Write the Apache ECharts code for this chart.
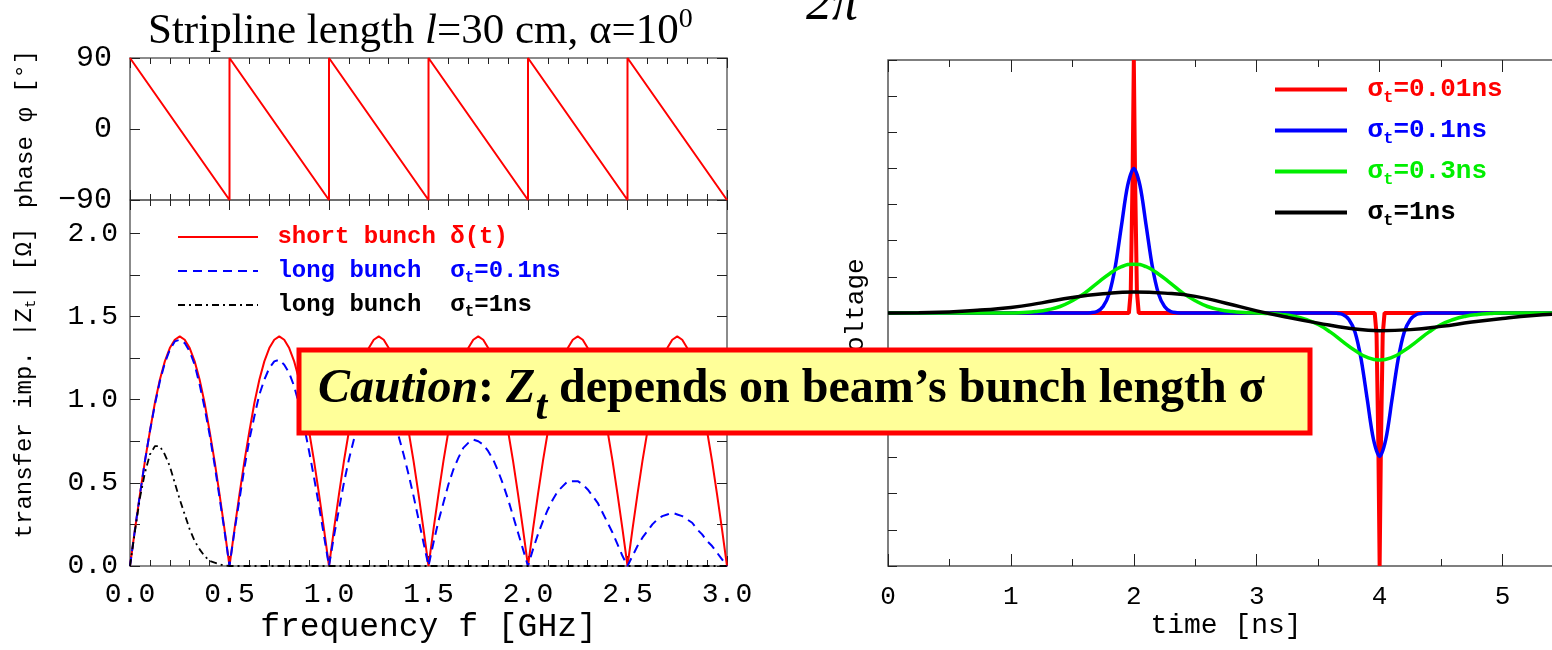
<!DOCTYPE html>
<html>
<head>
<meta charset="utf-8">
<title>Stripline transfer impedance</title>
<script src="https://cdn.jsdelivr.net/npm/echarts@6/dist/echarts.min.js"></script>
<style>
html, body { margin: 0; padding: 0; background: #fff; }
#main { width: 1552px; height: 650px; }
</style>
</head>
<body>
<div id="main"></div>
<script>
// ---- left panels: frequency domain ----
const freqGHz = [
  0, 0.025, 0.05, 0.075, 0.1, 0.125, 0.15, 0.175, 0.2, 0.225, 0.25, 0.275, 0.3, 0.325, 0.35, 0.375, 0.4, 0.425, 0.45, 0.475,
  0.5, 0.525, 0.55, 0.575, 0.6, 0.625, 0.65, 0.675, 0.7, 0.725, 0.75, 0.775, 0.8, 0.825, 0.85, 0.875, 0.9, 0.925, 0.95, 0.975,
  1.0, 1.025, 1.05, 1.075, 1.1, 1.125, 1.15, 1.175, 1.2, 1.225, 1.25, 1.275, 1.3, 1.325, 1.35, 1.375, 1.4, 1.425, 1.45, 1.475,
  1.5, 1.525, 1.55, 1.575, 1.6, 1.625, 1.65, 1.675, 1.7, 1.725, 1.75, 1.775, 1.8, 1.825, 1.85, 1.875, 1.9, 1.925, 1.95, 1.975,
  2.0, 2.025, 2.05, 2.075, 2.1, 2.125, 2.15, 2.175, 2.2, 2.225, 2.25, 2.275, 2.3, 2.325, 2.35, 2.375, 2.4, 2.425, 2.45, 2.475,
  2.5, 2.525, 2.55, 2.575, 2.6, 2.625, 2.65, 2.675, 2.7, 2.725, 2.75, 2.775, 2.8, 2.825, 2.85, 2.875, 2.9, 2.925, 2.95, 2.975,
  3.0
];
// |Zt| short bunch delta(t)
const zShort = [
  0, 0.22, 0.43, 0.63, 0.81, 0.98, 1.12, 1.23, 1.31, 1.36, 1.38, 1.36, 1.31, 1.23, 1.12, 0.98, 0.81, 0.63, 0.43, 0.22,
  0, 0.22, 0.43, 0.63, 0.81, 0.98, 1.12, 1.23, 1.31, 1.36, 1.38, 1.36, 1.31, 1.23, 1.12, 0.98, 0.81, 0.63, 0.43, 0.22,
  0, 0.22, 0.43, 0.63, 0.81, 0.98, 1.12, 1.23, 1.31, 1.36, 1.38, 1.36, 1.31, 1.23, 1.12, 0.98, 0.81, 0.63, 0.43, 0.22,
  0, 0.22, 0.43, 0.63, 0.81, 0.98, 1.12, 1.23, 1.31, 1.36, 1.38, 1.36, 1.31, 1.23, 1.12, 0.98, 0.81, 0.63, 0.43, 0.22,
  0, 0.22, 0.43, 0.63, 0.81, 0.98, 1.12, 1.23, 1.31, 1.36, 1.38, 1.36, 1.31, 1.23, 1.12, 0.98, 0.81, 0.63, 0.43, 0.22,
  0, 0.22, 0.43, 0.63, 0.81, 0.98, 1.12, 1.23, 1.31, 1.36, 1.38, 1.36, 1.31, 1.23, 1.12, 0.98, 0.81, 0.63, 0.43, 0.22,
  0
];
// |Zt| long bunch sigma_t = 0.1 ns
const zLong01 = [
  0, 0.22, 0.43, 0.63, 0.81, 0.97, 1.11, 1.22, 1.30, 1.35, 1.36, 1.34, 1.29, 1.21, 1.09, 0.95, 0.79, 0.61, 0.41, 0.21,
  0, 0.21, 0.40, 0.59, 0.76, 0.90, 1.03, 1.12, 1.19, 1.23, 1.24, 1.21, 1.16, 1.08, 0.97, 0.84, 0.69, 0.53, 0.36, 0.18,
  0, 0.18, 0.34, 0.50, 0.64, 0.76, 0.86, 0.94, 0.99, 1.01, 1.01, 0.99, 0.94, 0.87, 0.78, 0.67, 0.55, 0.42, 0.28, 0.14,
  0, 0.14, 0.27, 0.38, 0.49, 0.58, 0.65, 0.71, 0.74, 0.76, 0.75, 0.73, 0.69, 0.64, 0.57, 0.49, 0.40, 0.30, 0.20, 0.10,
  0, 0.10, 0.19, 0.27, 0.34, 0.40, 0.45, 0.48, 0.51, 0.51, 0.51, 0.49, 0.46, 0.42, 0.38, 0.32, 0.26, 0.20, 0.13, 0.06,
  0, 0.06, 0.12, 0.17, 0.21, 0.25, 0.28, 0.30, 0.31, 0.32, 0.31, 0.30, 0.28, 0.26, 0.22, 0.19, 0.15, 0.12, 0.08, 0.04,
  0
];
// |Zt| long bunch sigma_t = 1 ns
const freqLong1 = [
  0, 0.025, 0.05, 0.075, 0.1, 0.125, 0.15, 0.175, 0.2, 0.225, 0.25, 0.275, 0.3, 0.325, 0.35, 0.375, 0.4, 0.425, 0.45, 0.475,
  0.5, 0.75, 1.0, 1.5, 2.0, 2.5, 3.0
];
const zLong1 = [
  0, 0.21, 0.41, 0.56, 0.67, 0.72, 0.72, 0.67, 0.60, 0.50, 0.40, 0.31, 0.22, 0.15, 0.10, 0.06, 0.03, 0.02, 0.01, 0.003,
  0, 0, 0, 0, 0, 0, 0
];
// phase sawtooth
const phaseFreq = [0, 0.5, 0.5, 1.0, 1.0, 1.5, 1.5, 2.0, 2.0, 2.5, 2.5, 3.0];
const phaseDeg = [90, -90, 90, -90, 90, -90, 90, -90, 90, -90, 90, -90];

// ---- right panel: time domain voltage ----
const tS001 = [0, 1.96, 1.975, 1.99, 2.0, 2.01, 2.025, 2.04, 3.96, 3.975, 3.99, 4.0, 4.01, 4.025, 4.04, 5.5];
const vS001 = [0, 0, 0.6, 3.8, 7, 3.8, 0.6, 0, 0, -0.6, -3.8, -7, -3.8, -0.6, 0, 0];
const tS01 = [0, 1.6, 1.65, 1.7, 1.75, 1.8, 1.85, 1.9, 1.95, 2.0, 2.05, 2.1, 2.15, 2.2, 2.25, 2.3, 2.35, 2.4,
  3.6, 3.65, 3.7, 3.75, 3.8, 3.85, 3.9, 3.95, 4.0, 4.05, 4.1, 4.15, 4.2, 4.25, 4.3, 4.35, 4.4, 5.5];
const vS01 = [0, 0, 0.01, 0.04, 0.18, 0.54, 1.30, 2.43, 3.53, 4.0, 3.53, 2.43, 1.30, 0.54, 0.18, 0.04, 0.01, 0,
  0, -0.01, -0.04, -0.18, -0.53, -1.29, -2.41, -3.50, -3.97, -3.50, -2.41, -1.29, -0.53, -0.18, -0.04, -0.01, 0, 0];
const tS03 = [0, 1.0, 1.1, 1.2, 1.3, 1.4, 1.5, 1.6, 1.7, 1.8, 1.9, 2.0, 2.1, 2.2, 2.3, 2.4, 2.5, 2.6, 2.7, 2.8, 2.9,
  3.0, 3.1, 3.2, 3.3, 3.4, 3.5, 3.6, 3.7, 3.8, 3.9, 4.0, 4.1, 4.2, 4.3, 4.4, 4.5, 4.6, 4.7, 4.8, 4.9, 5.0, 5.5];
const vS03 = [0, 0, 0.015, 0.04, 0.09, 0.18, 0.34, 0.55, 0.82, 1.08, 1.28, 1.35, 1.28, 1.08, 0.82, 0.55, 0.34, 0.18, 0.09, 0.04, 0.015,
  0, -0.014, -0.04, -0.09, -0.18, -0.32, -0.53, -0.79, -1.04, -1.23, -1.30, -1.23, -1.04, -0.79, -0.53, -0.32, -0.18, -0.09, -0.04, -0.014, 0, 0];
const tS1 = [0, 0.25, 0.5, 0.75, 1.0, 1.25, 1.5, 1.75, 2.0, 2.25, 2.5, 2.75, 3.0, 3.25, 3.5, 3.75, 4.0, 4.25, 4.5, 4.75, 5.0, 5.25, 5.5];
const vS1 = [0, 0.01, 0.03, 0.08, 0.15, 0.28, 0.43, 0.53, 0.58, 0.55, 0.46, 0.27, 0.06, -0.12, -0.28, -0.42, -0.49, -0.46, -0.37, -0.25, -0.15, -0.07, -0.02];

const MONO = 'Liberation Mono';
const SERIF = 'Liberation Serif';
const TICK = '#222';

const pairs = (xs, ys) => xs.map((x, i) => [x, ys[i]]);

function tickAxis(cfg) {
  return Object.assign({
    type: 'value',
    axisLine: { show: false, onZero: false },
    axisTick: { show: true, inside: true, length: 10, lineStyle: { color: TICK, width: 1 } },
    axisLabel: { show: false },
    splitLine: { show: false },
    minorSplitLine: { show: false },
    nameMoveOverlap: false
  }, cfg);
}
const minorLeft = { show: true, splitNumber: 5, length: 6, lineStyle: { color: TICK, width: 1 } };
const shortTick = { show: true, inside: true, length: 7, lineStyle: { color: TICK, width: 1 } };
const longTick = { show: true, inside: true, length: 12, lineStyle: { color: TICK, width: 1 } };

function lineSeries(name, xi, yi, data, color, width, dash, smooth) {
  return {
    name: name, type: 'line', xAxisIndex: xi, yAxisIndex: yi, data: data,
    symbol: 'none', showSymbol: false, smooth: smooth || false, silent: true,
    emphasis: { disabled: true },
    lineStyle: { color: color, width: width, type: dash || 'solid' },
    itemStyle: { color: color }
  };
}

const richLeft = {
  r: { color: '#ff0000', fontFamily: MONO, fontWeight: 'bold', fontSize: 24, lineHeight: 30 },
  b: { color: '#0000ff', fontFamily: MONO, fontWeight: 'bold', fontSize: 24, lineHeight: 30 },
  bs: { color: '#0000ff', fontFamily: MONO, fontWeight: 'bold', fontSize: 16, lineHeight: 30, padding: [14, 0, 0, 0] },
  k: { color: '#000000', fontFamily: MONO, fontWeight: 'bold', fontSize: 24, lineHeight: 30 },
  ks: { color: '#000000', fontFamily: MONO, fontWeight: 'bold', fontSize: 16, lineHeight: 30, padding: [14, 0, 0, 0] }
};
const leftLabels = {
  'short bunch δ(t)': '{r| short bunch δ(t)}',
  'long bunch σt=0.1ns': '{b| long bunch  σ}{bs|t}{b|=0.1ns}',
  'long bunch σt=1ns': '{k| long bunch  σ}{ks|t}{k|=1ns}'
};
const richRight = {};
[['R', '#ff0000'], ['B', '#0000ff'], ['G', '#00ee00'], ['K', '#000000']].forEach(function (p) {
  richRight[p[0]] = { color: p[1], fontFamily: MONO, fontWeight: 'bold', fontSize: 26, lineHeight: 30 };
  richRight[p[0] + 's'] = { color: p[1], fontFamily: MONO, fontWeight: 'bold', fontSize: 17, lineHeight: 30, padding: [16, 0, 0, 0] };
});
const rightLabels = {
  'σt=0.01ns': '{R| σ}{Rs|t}{R|=0.01ns}',
  'σt=0.1ns': '{B| σ}{Bs|t}{B|=0.1ns}',
  'σt=0.3ns': '{G| σ}{Gs|t}{G|=0.3ns}',
  'σt=1ns': '{K| σ}{Ks|t}{K|=1ns}'
};

const chart = echarts.init(document.getElementById('main'));
chart.setOption({
  animation: false,
  backgroundColor: '#ffffff',
  title: {
    text: '{a|Stripline length }{i|l}{a|=30 cm, α=10}{p|0}',
    left: 143, top: 4,
    textStyle: {
      fontWeight: 'normal',
      rich: {
        a: { fontFamily: SERIF, fontWeight: 'normal', fontSize: 43, color: '#000', lineHeight: 46 },
        i: { fontFamily: SERIF, fontWeight: 'normal', fontStyle: 'italic', fontSize: 43, color: '#000', lineHeight: 46 },
        p: { fontFamily: SERIF, fontWeight: 'normal', fontSize: 28, color: '#000', lineHeight: 46, padding: [0, 0, 24, 0] }
      }
    }
  },
  grid: [
    { left: 130, top: 58, width: 597, height: 142, show: true, borderColor: '#666', borderWidth: 1.5, outerBoundsMode: 'none' },
    { left: 130, top: 200, width: 597, height: 366, show: true, borderColor: '#666', borderWidth: 1.5, outerBoundsMode: 'none' },
    { left: 888, top: 60, width: 676, height: 506, show: true, borderColor: '#555', borderWidth: 1.5, outerBoundsMode: 'none' }
  ],
  legend: [
    {
      left: 172, top: 217, orient: 'vertical', itemWidth: 80, itemHeight: 14, itemGap: 4,
      selectedMode: false,
      itemStyle: { opacity: 0 },
      data: ['short bunch δ(t)', 'long bunch σt=0.1ns', 'long bunch σt=1ns'],
      formatter: function (n) { return leftLabels[n]; },
      textStyle: { fontFamily: MONO, fontSize: 24, fontWeight: 'bold', lineHeight: 30, rich: richLeft }
    },
    {
      left: 1268, top: 68, orient: 'vertical', itemWidth: 72, itemHeight: 14, itemGap: 8,
      selectedMode: false,
      itemStyle: { opacity: 0 },
      lineStyle: { width: 4 },
      data: ['σt=0.01ns', 'σt=0.1ns', 'σt=0.3ns', 'σt=1ns'],
      formatter: function (n) { return rightLabels[n]; },
      textStyle: { fontFamily: MONO, fontSize: 26, fontWeight: 'bold', lineHeight: 30, rich: richRight }
    }
  ],
  xAxis: [
    tickAxis({ gridIndex: 0, position: 'bottom', min: 0, max: 3, interval: 0.5, minorTick: minorLeft }),
    tickAxis({ gridIndex: 0, position: 'top', min: 0, max: 3, interval: 0.5, minorTick: minorLeft }),
    tickAxis({
      gridIndex: 1, position: 'bottom', min: 0, max: 3, interval: 0.5, minorTick: minorLeft,
      axisLabel: { show: true, margin: 15, fontFamily: MONO, fontSize: 28, color: '#000',
        formatter: function (v) { return v.toFixed(1); } },
      name: 'frequency f [GHz]', nameLocation: 'middle', nameGap: 45,
      nameTextStyle: { fontFamily: MONO, fontSize: 33, color: '#000' }
    }),
    tickAxis({ gridIndex: 1, position: 'top', min: 0, max: 3, interval: 0.5, minorTick: minorLeft }),
    tickAxis({
      gridIndex: 2, position: 'bottom', min: 0, max: 5.5, interval: 1, axisTick: longTick,
      axisLabel: { show: true, margin: 18, fontFamily: MONO, fontSize: 26, color: '#000',
        formatter: function (v) { return Number.isInteger(v) ? String(v) : ''; } },
      name: 'time [ns]', nameLocation: 'middle', nameGap: 46,
      nameTextStyle: { fontFamily: MONO, fontSize: 28, color: '#000' }
    }),
    tickAxis({ gridIndex: 2, position: 'bottom', min: 0, max: 5.5, interval: 0.5, axisTick: shortTick }),
    tickAxis({ gridIndex: 2, position: 'top', min: 0, max: 5.5, interval: 1, axisTick: longTick }),
    tickAxis({ gridIndex: 2, position: 'top', min: 0, max: 5.5, interval: 0.5, axisTick: shortTick })
  ],
  yAxis: [
    tickAxis({
      gridIndex: 0, position: 'left', min: -90, max: 90, interval: 90,
      axisLabel: { show: true, margin: 18, fontFamily: MONO, fontSize: 30, color: '#000',
        formatter: function (v) { return v < 0 ? '\u2212' + (-v) : String(v); } },
      name: 'phase φ [°]', nameLocation: 'middle', nameGap: 92,
      nameTextStyle: { fontFamily: MONO, fontSize: 24, color: '#000' }
    }),
    tickAxis({ gridIndex: 0, position: 'right', min: -90, max: 90, interval: 90 }),
    tickAxis({
      gridIndex: 1, position: 'left', min: 0, max: 2.2, interval: 0.25,
      axisLabel: { show: true, margin: 12, fontFamily: MONO, fontSize: 28, color: '#000',
        formatter: function (v) { return Math.abs(v * 2 - Math.round(v * 2)) < 1e-6 ? v.toFixed(1) : ''; } },
      name: 'transfer imp. |Z{s|t}| [Ω]', nameLocation: 'middle', nameGap: 92,
      nameTextStyle: { fontFamily: MONO, fontSize: 24, color: '#000',
        rich: { s: { fontFamily: MONO, fontSize: 14, color: '#000', padding: [12, 0, 0, 0] } } }
    }),
    tickAxis({ gridIndex: 1, position: 'right', min: 0, max: 2.2, interval: 0.25 }),
    tickAxis({
      gridIndex: 2, position: 'left', min: -7, max: 7, interval: 1,
      axisTick: { show: true, inside: true, length: 9, lineStyle: { color: TICK, width: 1 } },
      name: 'voltage', nameLocation: 'middle', nameGap: 19,
      nameTextStyle: { fontFamily: MONO, fontSize: 26, color: '#000' }
    }),
    tickAxis({
      gridIndex: 2, position: 'right', min: -7, max: 7, interval: 1,
      axisTick: { show: true, inside: true, length: 9, lineStyle: { color: TICK, width: 1 } }
    })
  ],
  series: [
    lineSeries('phase', 0, 0, pairs(phaseFreq, phaseDeg), '#ff0000', 2),
    lineSeries('short bunch δ(t)', 2, 2, pairs(freqGHz, zShort), '#ff0000', 2),
    lineSeries('long bunch σt=0.1ns', 2, 2, pairs(freqGHz, zLong01), '#0000ff', 2, [9, 6]),
    lineSeries('long bunch σt=1ns', 2, 2, pairs(freqLong1, zLong1), '#000000', 1.8, [7, 4, 2, 4]),
    lineSeries('σt=0.01ns', 4, 4, pairs(tS001, vS001), '#ff0000', 4),
    lineSeries('σt=0.1ns', 4, 4, pairs(tS01, vS01), '#0000ff', 3.5, null, 0.3),
    lineSeries('σt=0.3ns', 4, 4, pairs(tS03, vS03), '#00ee00', 3.5, null, true),
    lineSeries('σt=1ns', 4, 4, pairs(tS1, vS1), '#000000', 3.5, null, true)
  ],
  graphic: [
    {
      type: 'text', x: 806, y: 31, z: 100,
      style: { text: '2π', fontFamily: SERIF, fontStyle: 'italic', fontSize: 52, fill: '#000', verticalAlign: 'bottom' }
    },
    {
      type: 'rect', z: 100,
      shape: { x: 299, y: 350, width: 1011, height: 83 },
      style: { fill: '#ffff99', stroke: '#ff0000', lineWidth: 5 }
    },
    {
      type: 'text', x: 318, y: 390, z: 101,
      style: {
        text: '{ci|Caution}{b|: }{zi|Z}{sub|t}{b| depends on beam’s bunch length σ}',
        verticalAlign: 'middle', align: 'left',
        rich: {
          ci: { fontFamily: SERIF, fontWeight: 'bold', fontStyle: 'italic', fontSize: 48, fill: '#000', lineHeight: 54 },
          b: { fontFamily: SERIF, fontWeight: 'bold', fontSize: 48, fill: '#000', lineHeight: 54 },
          zi: { fontFamily: SERIF, fontWeight: 'bold', fontStyle: 'italic', fontSize: 48, fill: '#000', lineHeight: 54 },
          sub: { fontFamily: SERIF, fontWeight: 'bold', fontStyle: 'italic', fontSize: 42, fill: '#000', lineHeight: 54, padding: [36, 0, 0, 0] }
        }
      }
    }
  ]
});
</script>
</body>
</html>
